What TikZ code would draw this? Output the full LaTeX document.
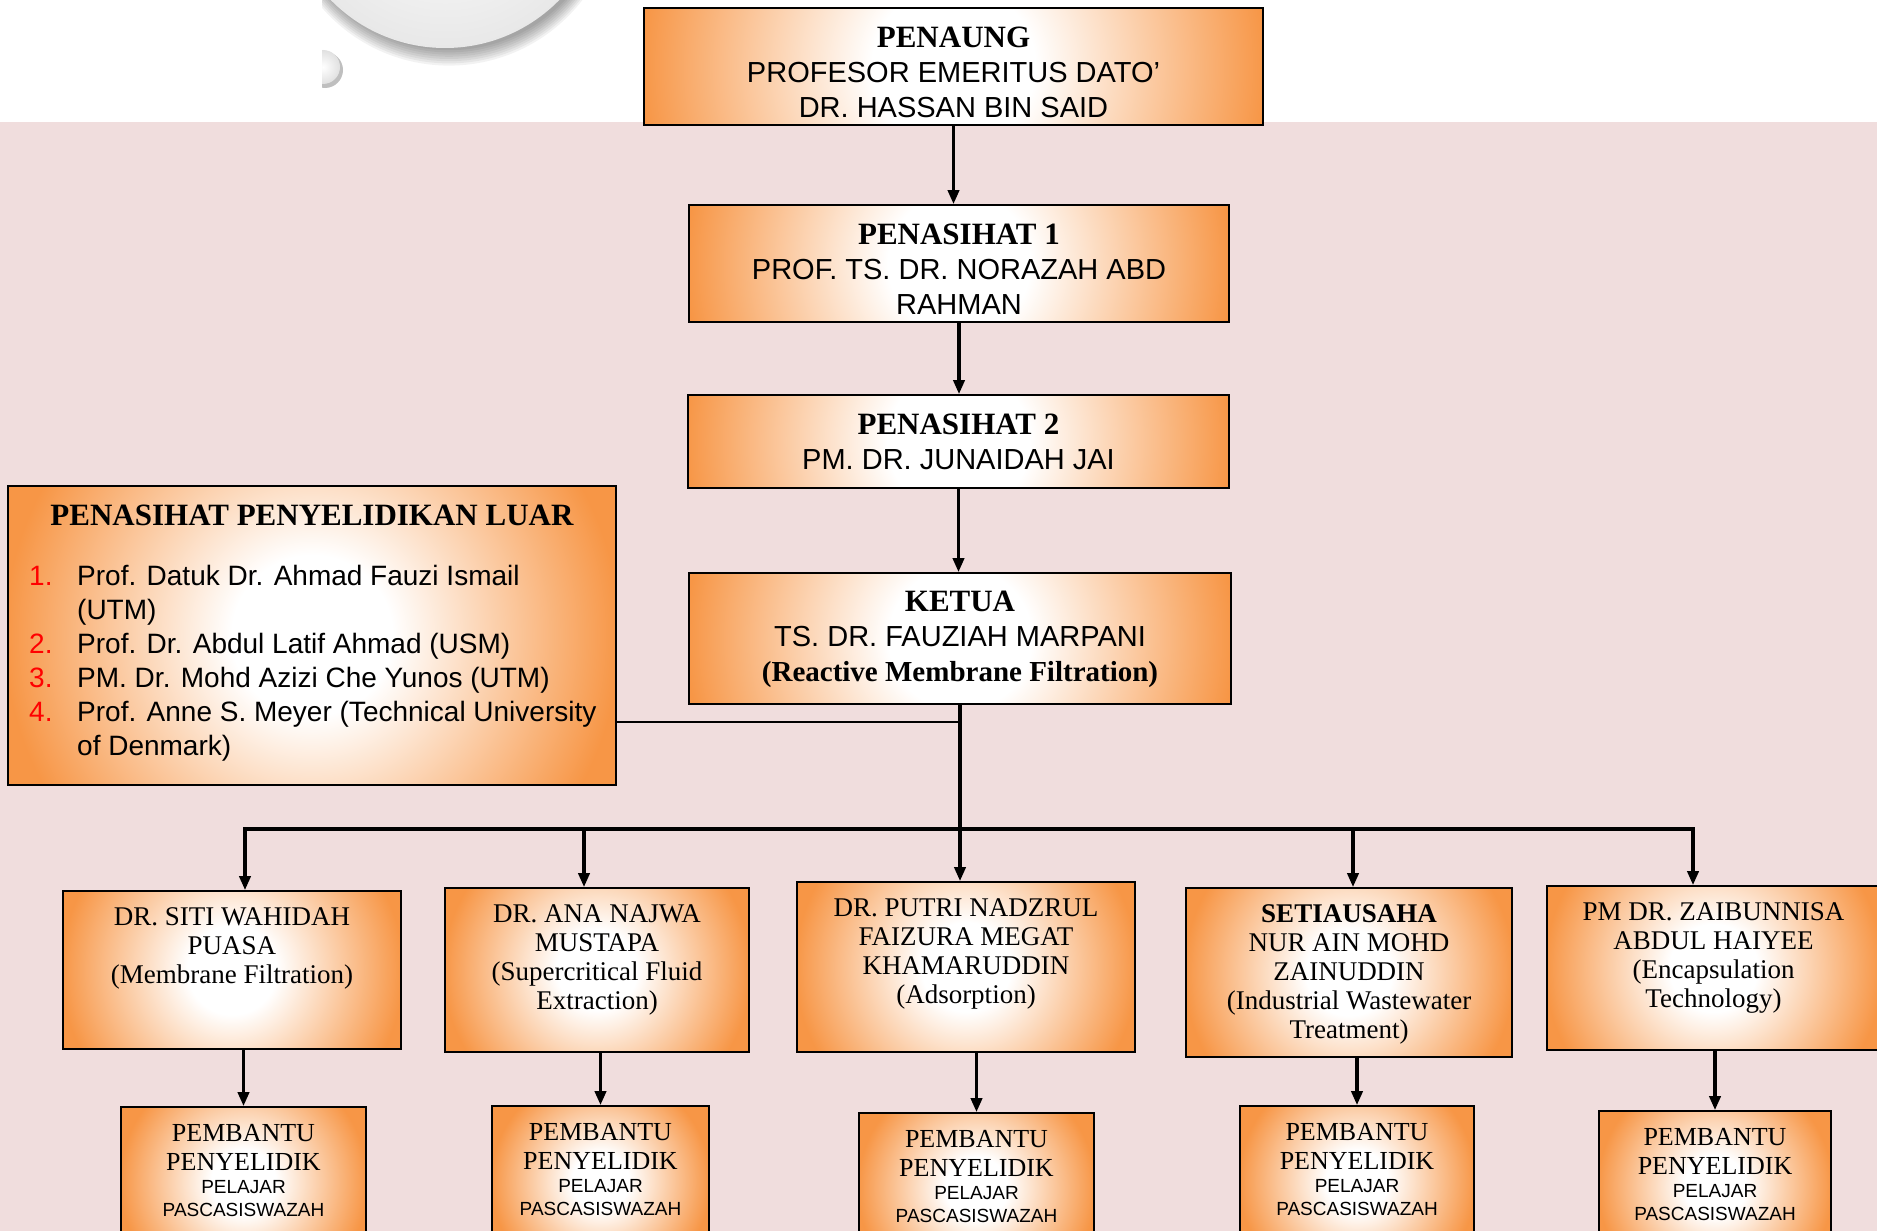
\documentclass[tikz,border=0pt]{standalone}
\usepackage{fontspec}
\setmainfont{Liberation Serif}
\newfontfamily\arialf{Liberation Sans}
\usetikzlibrary{arrows.meta,calc}
\definecolor{boxorange}{RGB}{247,150,70}
\definecolor{pinkbg}{RGB}{240,221,221}
\definecolor{numred}{RGB}{255,0,0}
\pgfdeclareradialshading{orangebox}{\pgfpoint{0bp}{0bp}}{color(0bp)=(white); color(6bp)=(white); color(23bp)=(boxorange); color(25bp)=(boxorange); color(50bp)=(boxorange)}
\newcommand{\myHd}{\rmfamily\bfseries\fontsize{31}{35}\selectfont}
\newcommand{\mySans}{\arialf\fontsize{29}{35}\selectfont}
\tikzset{
  obox/.style={draw=black, line width=1.6pt, fill=boxorange, inner sep=0pt, rectangle,
    path picture={\shade[shading=orangebox] let \p1=($(path picture bounding box.east)-(path picture bounding box.west)$) in (path picture bounding box.center) circle[radius=0.55*\x1];}},
  toptext/.style={align=center, inner sep=0pt, font=\fontsize{29}{35}\selectfont},
  lvltext/.style={align=center, inner sep=0pt, anchor=north, font=\fontsize{27}{29}\selectfont},
  bottext/.style={align=center, inner sep=0pt, anchor=north, font=\fontsize{26}{29}\selectfont},
  arr/.style={line width=3.5pt, -{Triangle[length=14pt,width=11pt]}},
  busline/.style={line width=3.5pt, line cap=rect},
  thinline/.style={line width=2.2pt}
}
\begin{document}
\begin{tikzpicture}[x=1pt,y=-1pt]
\useasboundingbox (0,0) rectangle (1877,1231);
\clip (0,0) rectangle (1877,1231);
\fill[white] (0,0) rectangle (1877,122);
\fill[pinkbg] (0,122) rectangle (1877,1231);
% decorative bubbles
\begin{scope}
\clip (322,0) rectangle (700,122);
\foreach \i in {1,...,8} {\fill[black, opacity=0.05] (449,{-110+\i*0.9}) circle ({158pt+\i*1.3pt});}
\shade[inner color=white, outer color=black!9] (445,-112) circle (160pt);
\fill[black, opacity=0.25] (325,70) circle (18pt);
\shade[inner color=white, outer color=black!12] (323,67) circle (17pt);
\end{scope}

% top chain
\node[obox, minimum width=619pt, minimum height=117pt] (pen) at (953.5,66.5) {};
\node[toptext] (pent) at ([yshift=-6pt]pen.center)
  {{\myHd PENAUNG}\\ {\mySans PROFESOR EMERITUS DATO’}\\ {\mySans DR. HASSAN BIN SAID}};
\node[obox, minimum width=540pt, minimum height=117pt] (p1) at (959,263.5) {};
\node[toptext] (p1t) at ([yshift=-6pt]p1.center)
  {{\myHd PENASIHAT 1}\\ {\mySans PROF. TS. DR. NORAZAH ABD}\\ {\mySans RAHMAN}};
\node[obox, minimum width=541pt, minimum height=93pt] (p2) at (958.5,441.5) {};
\node[toptext] (p2t) at (p2.center)
  {{\myHd PENASIHAT 2}\\ {\mySans PM. DR. JUNAIDAH JAI}};
\node[obox, minimum width=542pt, minimum height=131pt] (ketua) at (960,638.5) {};
\node[toptext] (ketuat) at ([yshift=-1pt]ketua.center)
  {{\myHd KETUA}\\ {\mySans TS. DR. FAUZIAH MARPANI}\\ {\rmfamily\bfseries\fontsize{29}{35}\selectfont (Reactive Membrane Filtration)}};

% external advisors
\node[obox, minimum width=608pt, minimum height=299pt] (luar) at (312,635.5) {};
\node[font=\myHd, inner sep=0pt] (luarh) at (312,515) {PENASIHAT PENYELIDIKAN LUAR};
\node[anchor=north west, align=left, inner sep=0pt, font=\arialf\fontsize{28}{34}\selectfont] (luarl) at (29,565)
  {\makebox[48pt][l]{\color{numred}1.}Prof. Datuk Dr. Ahmad Fauzi Ismail\\
   \hspace*{48pt}(UTM)\\
   \makebox[48pt][l]{\color{numred}2.}Prof. Dr. Abdul Latif Ahmad (USM)\\
   \makebox[48pt][l]{\color{numred}3.}PM. Dr. Mohd Azizi Che Yunos (UTM)\\
   \makebox[48pt][l]{\color{numred}4.}Prof. Anne S. Meyer (Technical University\\
   \hspace*{48pt}of Denmark)};

% second level boxes
\node[obox, minimum width=338pt, minimum height=158pt] (s1) at (232,970) {};
\node[obox, minimum width=304pt, minimum height=164pt] (s2) at (597,970) {};
\node[obox, minimum width=338pt, minimum height=170pt] (s3) at (966,967) {};
\node[obox, minimum width=326pt, minimum height=169pt] (s4) at (1349,972.5) {};
\node[obox, minimum width=333pt, minimum height=164pt] (s5) at (1713.5,968) {};
\node[lvltext] (s1t) at ([yshift=-17pt]s1.north) {DR. SITI WAHIDAH\\ PUASA\\ (Membrane Filtration)};
\node[lvltext] (s2t) at ([yshift=-17pt]s2.north) {DR. ANA NAJWA\\ MUSTAPA\\ (Supercritical Fluid\\ Extraction)};
\node[lvltext] (s3t) at ([yshift=-17pt]s3.north) {DR. PUTRI NADZRUL\\ FAIZURA MEGAT\\ KHAMARUDDIN\\ (Adsorption)};
\node[lvltext] (s4t) at ([yshift=-17pt]s4.north) {\textbf{SETIAUSAHA}\\ NUR AIN MOHD\\ ZAINUDDIN\\ (Industrial Wastewater\\ Treatment)};
\node[lvltext] (s5t) at ([yshift=-17pt]s5.north) {PM DR. ZAIBUNNISA\\ ABDUL HAIYEE\\ (Encapsulation\\ Technology)};

% bottom boxes
\node[obox, minimum width=245pt, minimum height=150pt] (b1) at (243.5,1182) {};
\node[obox, minimum width=217pt, minimum height=150pt] (b2) at (600.5,1181) {};
\node[obox, minimum width=235pt, minimum height=150pt] (b3) at (976.5,1188) {};
\node[obox, minimum width=234pt, minimum height=150pt] (b4) at (1357,1181) {};
\node[obox, minimum width=232pt, minimum height=150pt] (b5) at (1715,1186) {};
\foreach \b in {b1,b2,b3,b4,b5} {
  \node[bottext] (\b t) at ([yshift=-18pt]\b.north) {PEMBANTU\\ PENYELIDIK\\[-6pt] {\arialf\fontsize{19}{24}\selectfont PELAJAR}\\[-6pt] {\arialf\fontsize{19}{24}\selectfont PASCASISWAZAH}};
}

% connectors
\draw[arr] (pen.south) -- (pen.south |- p1.north);
\draw[arr] (p1.south) -- (p1.south |- p2.north);
\draw[arr] (p2.south) -- (p2.south |- ketua.north);
\coordinate (busL) at (245,829);
\coordinate (bus2) at (584,829);
\coordinate (bus4) at (1353,829);
\coordinate (busR) at (1693,829);
\coordinate (lj) at (960,722);
\draw[thinline] (luar.east |- lj) -- (lj);
\draw[busline] (busL) -- (busR);
\draw[arr] (ketua.south) -- (ketua.south |- s3.north);
\draw[arr] (busL) -- (busL |- s1.north);
\draw[arr] (bus2) -- (bus2 |- s2.north);
\draw[arr] (bus4) -- (bus4 |- s4.north);
\draw[arr] (busR) -- (busR |- s5.north);
\draw[arr] (b1.north |- s1.south) -- (b1.north);
\draw[arr] (b2.north |- s2.south) -- (b2.north);
\draw[arr] (b3.north |- s3.south) -- (b3.north);
\draw[arr] (b4.north |- s4.south) -- (b4.north);
\draw[arr] (b5.north |- s5.south) -- (b5.north);
\end{tikzpicture}
\end{document}
